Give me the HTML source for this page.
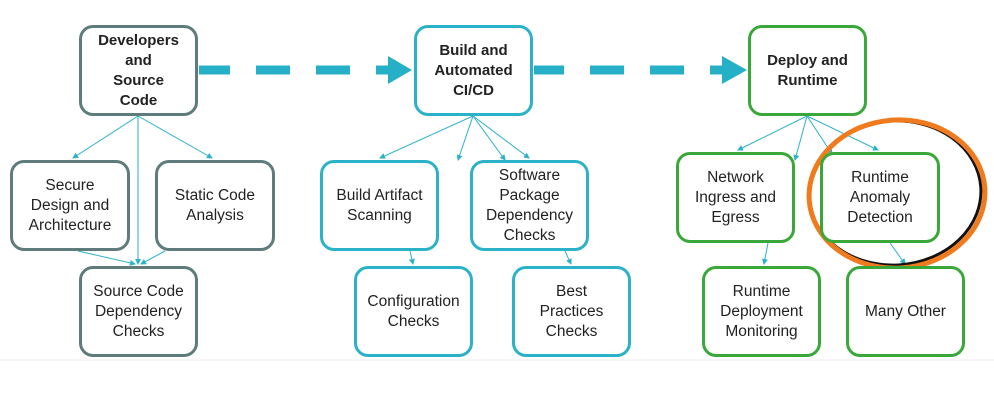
<!DOCTYPE html>
<html><head><style>
body{margin:0;background:#fff;width:994px;height:418px;overflow:hidden;font-family:"Liberation Sans",sans-serif;}
.b{position:absolute;box-sizing:border-box;border:3px solid;border-radius:14px;background:#fff;display:flex;align-items:center;justify-content:center;text-align:center;font-size:15.5px;line-height:20px;color:#222;}
.g{border-color:#5e7c7b}.c{border-color:#2bb2c9}.r{border-color:#3aa838}
.h{font-weight:bold;font-size:15px}
svg{position:absolute;left:0;top:0}
</style></head><body>
<svg width="994" height="418">
<defs><marker id="a" markerWidth="6" markerHeight="6" refX="5" refY="3" orient="auto"><path d="M0,0L6,3L0,6z" fill="#2bb2c9"/></marker></defs>
<line x1="0" y1="360" x2="994" y2="360" stroke="#eee"/>
<g stroke="#2bb2c9" stroke-width="1" fill="none" marker-end="url(#a)">
<line x1="138" y1="116" x2="73" y2="158"/><line x1="138" y1="116" x2="212" y2="158"/><line x1="138" y1="116" x2="138" y2="264"/>
<line x1="78" y1="251" x2="135" y2="264"/><line x1="165" y1="251" x2="141" y2="264"/>
<line x1="473" y1="116" x2="380" y2="158"/><line x1="473" y1="116" x2="529" y2="158"/><line x1="473" y1="116" x2="505" y2="160"/><line x1="473" y1="116" x2="458" y2="160"/>
<line x1="410" y1="251" x2="413" y2="264"/><line x1="565" y1="251" x2="571" y2="264"/>
<line x1="807" y1="116" x2="738" y2="150"/><line x1="807" y1="116" x2="878" y2="150"/><line x1="807" y1="116" x2="795" y2="160"/><line x1="807" y1="116" x2="832" y2="154"/>
<line x1="768" y1="243" x2="764" y2="264"/><line x1="890" y1="243" x2="905" y2="264"/>
</g>
<g stroke="#25b0c8" stroke-width="9">
<line x1="199" y1="70" x2="230" y2="70"/><line x1="256" y1="70" x2="290" y2="70"/><line x1="316" y1="70" x2="350" y2="70"/><line x1="376" y1="70" x2="390" y2="70"/>
<line x1="534" y1="70" x2="564" y2="70"/><line x1="590" y1="70" x2="624" y2="70"/><line x1="650" y1="70" x2="684" y2="70"/><line x1="710" y1="70" x2="724" y2="70"/>
</g>
<path d="M388,56L412,70L388,84z M722,56L747,70L722,84z" fill="#25b0c8"/>
<ellipse cx="895" cy="193" rx="86" ry="72" fill="none" stroke="#111" stroke-width="3" transform="rotate(-4 895 193)"/>
<ellipse cx="897" cy="194" rx="88" ry="74" fill="none" stroke="#f07b1e" stroke-width="5" transform="rotate(-4 897 194)"/>
</svg>
<div class="b g h" style="left:79px;top:25px;width:119px;height:91px">Developers<br>and<br>Source<br>Code</div>
<div class="b g" style="left:10px;top:160px;width:120px;height:91px">Secure<br>Design and<br>Architecture</div>
<div class="b g" style="left:155px;top:160px;width:120px;height:91px">Static Code<br>Analysis</div>
<div class="b g" style="left:79px;top:266px;width:119px;height:91px">Source Code<br>Dependency<br>Checks</div>
<div class="b c h" style="left:414px;top:25px;width:119px;height:91px">Build and<br>Automated<br>CI/CD</div>
<div class="b c" style="left:320px;top:160px;width:119px;height:91px">Build Artifact<br>Scanning</div>
<div class="b c" style="left:470px;top:160px;width:119px;height:91px">Software<br>Package<br>Dependency<br>Checks</div>
<div class="b c" style="left:354px;top:266px;width:119px;height:91px">Configuration<br>Checks</div>
<div class="b c" style="left:512px;top:266px;width:119px;height:91px">Best<br>Practices<br>Checks</div>
<div class="b r h" style="left:748px;top:25px;width:119px;height:91px">Deploy and<br>Runtime</div>
<div class="b r" style="left:676px;top:152px;width:119px;height:91px">Network<br>Ingress and<br>Egress</div>
<div class="b r" style="left:820px;top:152px;width:120px;height:91px">Runtime<br>Anomaly<br>Detection</div>
<div class="b r" style="left:702px;top:266px;width:119px;height:91px">Runtime<br>Deployment<br>Monitoring</div>
<div class="b r" style="left:846px;top:266px;width:119px;height:91px">Many Other</div>
</body></html>
